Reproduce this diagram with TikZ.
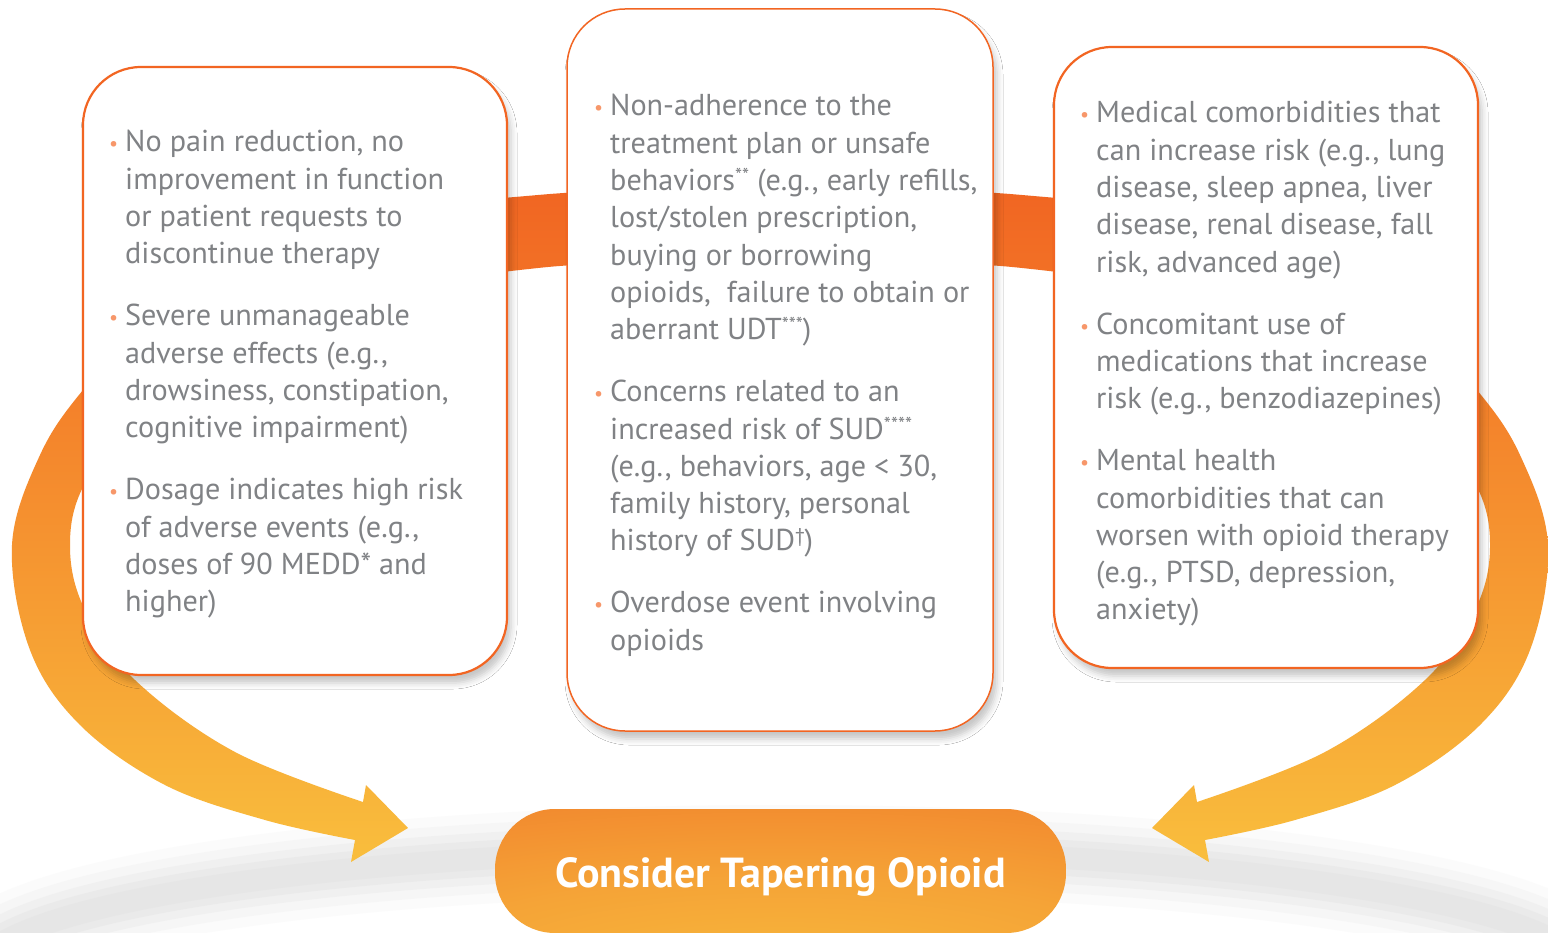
\documentclass[tikz,border=0pt]{standalone}
\usepackage{fontspec}
\setmainfont{PT Sans}
\usetikzlibrary{shadows.blur}
\definecolor{borange}{HTML}{F26522}
\definecolor{txtgray}{HTML}{808285}
\definecolor{bulor}{HTML}{F7976A}
\definecolor{bandtop}{HTML}{F16522}
\definecolor{bandbot}{HTML}{F9BE3D}
\definecolor{btnyel}{HTML}{F8B93B}
\definecolor{btnmid}{HTML}{F5A437}
\definecolor{btnor}{HTML}{F07B2A}
\definecolor{arcgray}{HTML}{E4E4E4}
\pgfdeclareradialshading{btnshade}{\pgfpoint{0bp}{-45bp}}{color(0bp)=(btnyel); color(30bp)=(btnmid); color(70bp)=(btnor); color(120bp)=(btnor)}
\newcommand\bitem[1]{\par\noindent\llap{\makebox[16pt][l]{\raisebox{1pt}{\textcolor{bulor}{\fontsize{20}{20}\selectfont •}}}}#1}
\newcommand\sups[1]{\raisebox{8pt}{\fontsize{20}{20}\selectfont #1}}
\newcommand\boxsetup{\raggedright\setlength\parskip{24.7pt}\setlength\leftskip{16pt}}
\newcommand\bandpath{%
  plot[smooth, tension=0.6] coordinates {(780,188) (660,189) (538,195) (400,212) (260,255) (150,320) (83,390) (40,455) (12,545) (30,650) (80,725) (165,785) (265,820) (355,840)}
  -- (351,862) -- (408,828) -- (366,785) --
  plot[smooth, tension=0.6] coordinates {(363,802) (235,752) (135,680) (85,610) (70,547) (84,485) (140,410) (250,340) (400,290) (538,268) (660,262) (780,261)}
  -- cycle}
\tikzset{
  card/.style={draw=borange, fill=white, rounded corners=58pt, line width=2.2pt,
    blur shadow={shadow xshift=4pt, shadow yshift=-8pt, shadow blur radius=6pt, shadow opacity=22}},
  boxtext/.style={anchor=base west, inner sep=0pt, text=txtgray, font=\fontsize{30.2}{37.3}\selectfont},
  btn/.style={shade, shading=btnshade, rounded corners=60pt, minimum width=571pt, minimum height=124pt,
    inner sep=0pt, text=white, font=\fontsize{42}{42}\selectfont\bfseries},
  band/.style={top color=bandtop, bottom color=bandbot}
}
\begin{document}
\begin{tikzpicture}[x=1pt, y=-1pt]
\useasboundingbox (0,0) rectangle (1548,933);
\fill[white] (0,0) rectangle (1548,933);
% soft grey ground arc
\foreach \w/\o in {90/0.12, 70/0.2, 52/0.3, 36/0.45, 22/0.6}
  \draw[arcgray, line width=\w pt, opacity=\o] (780,975) ellipse [x radius=805, y radius=125];
% orange ring / arrows behind the cards
\shade[band] \bandpath;
\begin{scope}[shift={(1560,0)}, xscale=-1]
  \shade[band] \bandpath;
\end{scope}
% cards
\node[card, minimum width=424pt, minimum height=608pt] (left) at (295,371) {};
\node[card, line width=1.5pt, minimum width=426pt, minimum height=722pt] (mid) at (780,370) {};
\node[card, minimum width=424pt, minimum height=621pt] (right) at (1266,357.5) {};
% texts
\node[boxtext] (lefttext) at (109,152) {\parbox[t]{400pt}{\boxsetup
\bitem{No pain reduction, no\\improvement in function\\or patient requests to\\discontinue therapy}
\bitem{Severe unmanageable\\adverse effects (e.g.,\\drowsiness, constipation,\\cognitive impairment)}
\bitem{Dosage indicates high risk\\of adverse events (e.g.,\\doses of 90 MEDD* and\\higher)}}};
\node[boxtext] (midtext) at (594,116) {\parbox[t]{400pt}{\boxsetup
\bitem{Non-adherence to the\\treatment plan or unsafe\\behaviors\sups{**} (e.g., early refills,\\lost/stolen prescription,\\buying or borrowing\\opioids,\ \ failure to obtain or\\aberrant UDT\sups{***})}
\bitem{Concerns related to an\\increased risk of SUD\sups{****}\\(e.g., behaviors, age < 30,\\family history, personal\\history of SUD\sups{†})}
\bitem{Overdose event involving\\opioids}}};
\node[boxtext] (righttext) at (1080,123) {\parbox[t]{400pt}{\boxsetup
\bitem{Medical comorbidities that\\can increase risk (e.g., lung\\disease, sleep apnea, liver\\disease, renal disease, fall\\risk, advanced age)}
\bitem{Concomitant use of\\medications that increase\\risk (e.g., benzodiazepines)}
\bitem{Mental health\\comorbidities that can\\worsen with opioid therapy\\(e.g., PTSD, depression,\\anxiety)}}};
% result
\node[btn] (taper) at (780.5,871) {\raisebox{-16pt}[0pt][0pt]{Consider Tapering Opioid}};
\end{tikzpicture}
\end{document}
